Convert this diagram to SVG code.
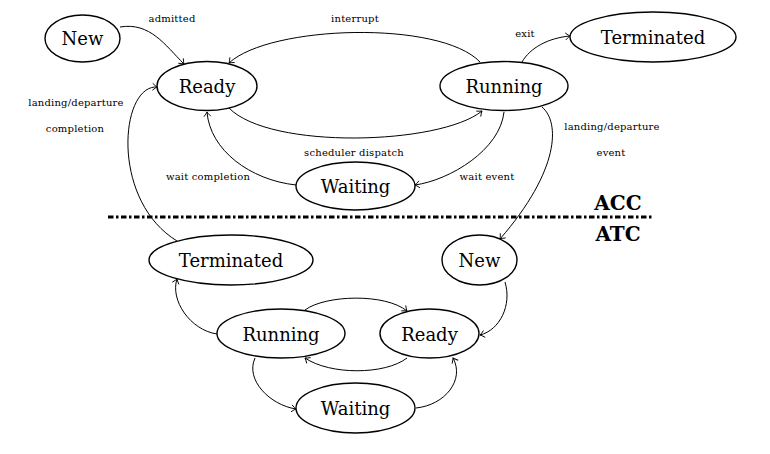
<svg xmlns="http://www.w3.org/2000/svg" width="770" height="454" viewBox="0 0 770 454">
<defs>
<marker id="arr" markerWidth="10" markerHeight="10" refX="0" refY="0" viewBox="-6 -5 8 10" orient="auto" markerUnits="userSpaceOnUse">
<path d="M-4.5,-3.5 Q-1.5,-0.8 0,0 Q-1.5,0.8 -4.5,3.5" fill="none" stroke="#000" stroke-width="0.9"/>
</marker>
<style>
text{font-family:'DejaVu Serif',serif}
.n ellipse{fill:#fff;stroke:#000;stroke-width:1.4}
.n text{font-size:18px;text-anchor:middle;fill:#000}
.e path{fill:none;stroke:#000;stroke-width:1;marker-end:url(#arr)}
.l{font-size:10px;letter-spacing:0.2px;text-anchor:middle;fill:#000}
.b{font-size:20px;font-weight:bold;text-anchor:middle;fill:#000}
</style>
</defs>
<rect width="770" height="454" fill="#fff"/>
<line x1="108" y1="217" x2="652" y2="217" stroke="#000" stroke-width="3" stroke-dasharray="5.5 2.5 2.5 2.5"/>
<g id="edges" class="e">
<path d="M120,27 C150,22 165,45 184,64"/>
<path d="M480,62 C440,20 270,25 229,63"/>
<path d="M229,108 C270,150 440,145 482,111"/>
<path d="M504,112 C500,150 450,180 415,185"/>
<path d="M296,185 C250,180 210,150 207,112"/>
<path d="M522,62 C530,48 548,38 570,36"/>
<path d="M542,107 C560,122 560,170 500,239"/>
<path d="M177,241 C110,200 120,85 157,87"/>
<path d="M505,282 C512,305 500,330 480,335"/>
<path d="M305,310 C325,295 385,293 407,311"/>
<path d="M407,358 C385,375 330,375 305,358"/>
<path d="M255,358 C245,380 270,405 296,409"/>
<path d="M416,408 C445,405 465,380 453,358"/>
<path d="M217,334 C190,330 170,300 177,279"/>
</g>
<g id="labels">
<text class="l" x="172" y="22">admitted</text>
<text class="l" x="355" y="22">interrupt</text>
<text class="l" x="525" y="37">exit</text>
<text class="l" x="76" y="106">landing/departure</text>
<text class="l" x="75" y="132">completion</text>
<text class="l" x="208" y="180">wait completion</text>
<text class="l" x="354" y="156">scheduler dispatch</text>
<text class="l" x="487" y="180">wait event</text>
<text class="l" x="612" y="130">landing/departure</text>
<text class="l" x="611" y="156">event</text>
<text class="b" x="618" y="210">ACC</text>
<text class="b" x="618" y="241">ATC</text>
</g>
<g id="acc-new" class="n"><ellipse cx="82.5" cy="38.5" rx="37.5" ry="23.5"/><text x="82.5" y="45">New</text></g>
<g id="acc-ready" class="n"><ellipse cx="207" cy="86" rx="50" ry="24.5"/><text x="207" y="93">Ready</text></g>
<g id="acc-running" class="n"><ellipse cx="504" cy="86" rx="64" ry="24.5"/><text x="504" y="93">Running</text></g>
<g id="acc-waiting" class="n"><ellipse cx="355.5" cy="186" rx="59.5" ry="24"/><text x="355.5" y="193">Waiting</text></g>
<g id="acc-terminated" class="n"><ellipse cx="653" cy="37" rx="83" ry="25"/><text x="653" y="44">Terminated</text></g>
<g id="atc-terminated" class="n"><ellipse cx="231" cy="260" rx="82" ry="25"/><text x="231" y="267">Terminated</text></g>
<g id="atc-new" class="n"><ellipse cx="479.5" cy="260" rx="37.5" ry="25"/><text x="479.5" y="267">New</text></g>
<g id="atc-running" class="n"><ellipse cx="281" cy="333.5" rx="64" ry="24.5"/><text x="281" y="340.5">Running</text></g>
<g id="atc-ready" class="n"><ellipse cx="429.5" cy="333.5" rx="49.5" ry="24.5"/><text x="429.5" y="340.5">Ready</text></g>
<g id="atc-waiting" class="n"><ellipse cx="355.5" cy="408" rx="59.5" ry="25"/><text x="355.5" y="415">Waiting</text></g>
</svg>
